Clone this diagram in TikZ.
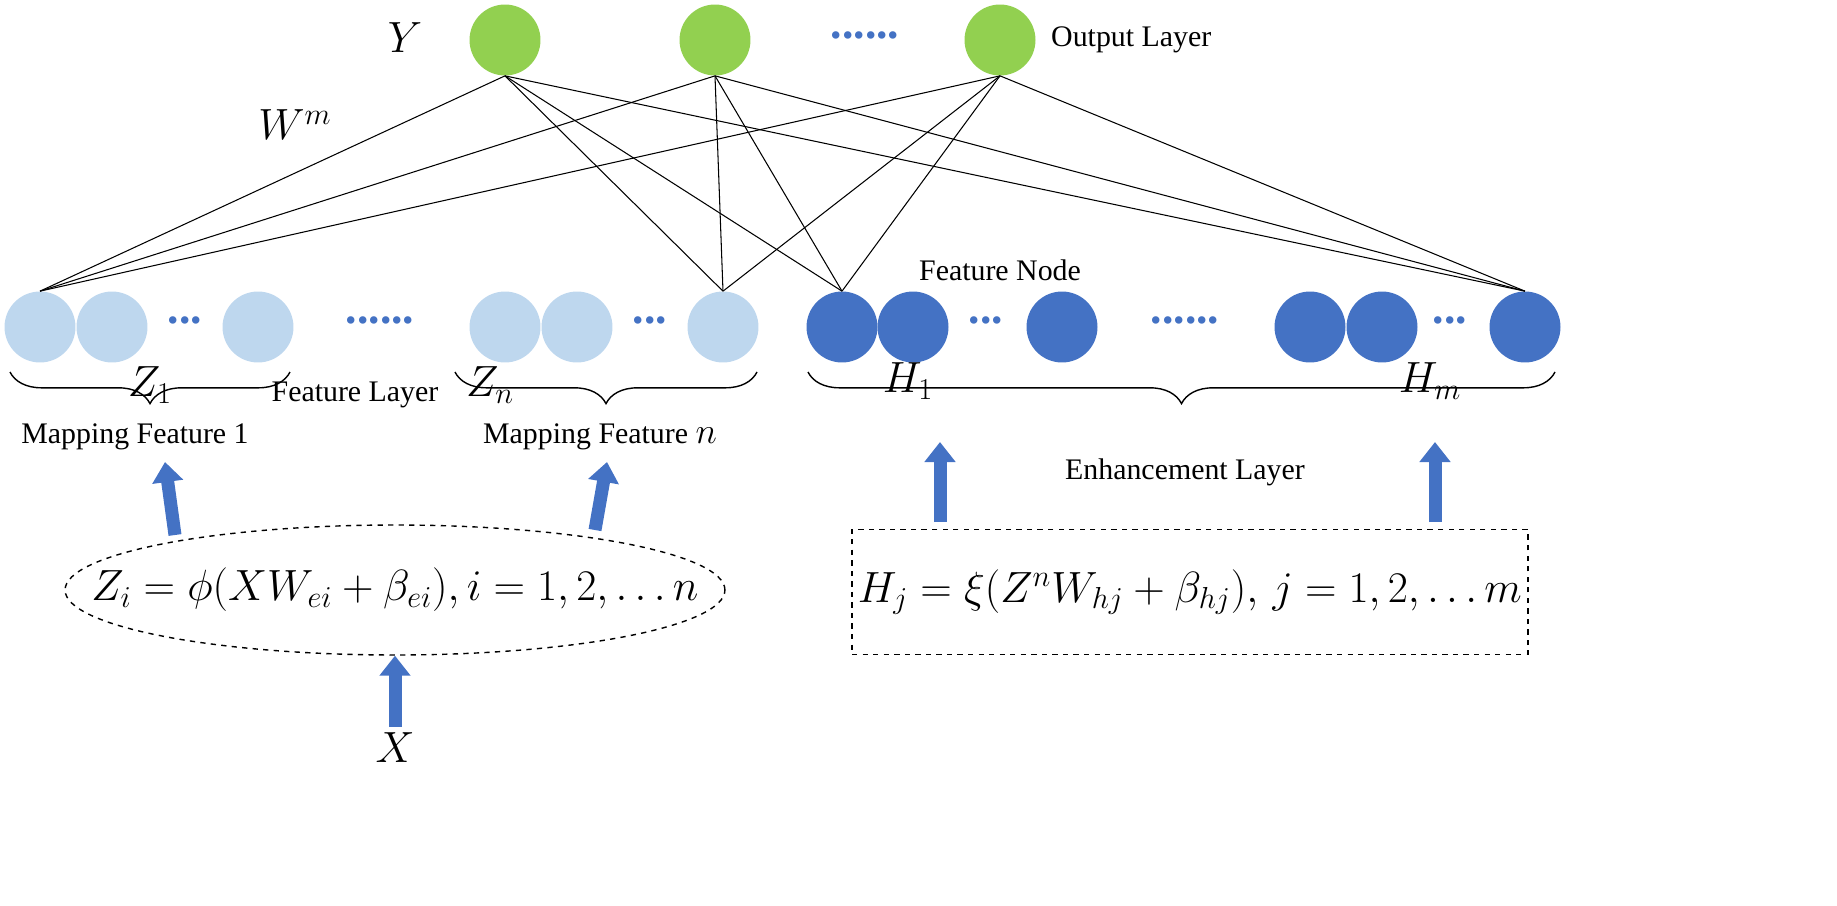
\documentclass[tikz,border=0pt]{standalone}
\usepackage{fontspec}
\setmainfont{Liberation Serif}
\usetikzlibrary{decorations.pathreplacing,arrows.meta,shapes.geometric}
\begin{document}
\begin{tikzpicture}[x=0.02cm,y=-0.02cm,
  outn/.style={circle,minimum size=1.42cm,inner sep=0},
  lbn/.style={circle,fill={rgb,255:red,190;green,215;blue,238},minimum size=1.42cm,inner sep=0},
  dbn/.style={circle,fill={rgb,255:red,68;green,114;blue,196},minimum size=1.42cm,inner sep=0},
  txt/.style={font=\fontsize{17}{20}\selectfont},
  dots/.style={text={rgb,255:red,68;green,114;blue,196},font=\fontsize{26}{26}\selectfont\bfseries},
  barrow/.style={draw={rgb,255:red,68;green,114;blue,196},line width=2.6mm,-{Triangle[length=4mm,width=6mm]}},
  brace/.style={decorate,decoration={brace,amplitude=18pt},thick},
  wire/.style={line width=0.6pt}]
\definecolor{og}{RGB}{146,208,80}
\node[outn,fill=og] (o1) at (505,40) {};
\node[outn,fill=og] (o2) at (715,40) {};
\node[outn,fill=og] (o3) at (1000,40) {};
\node[dots] (od) at (865,35) {......};
\node[font=\fontsize{28}{30}\selectfont\itshape] (y) at (405,38) {$Y$};
\node[txt,anchor=west] (ol) at (1045,40) {Output Layer};
\node[font=\fontsize{26}{28}\selectfont] (w) at (295,125) {$W^{m}$};
% feature nodes
\foreach \n/\x in {a1/40,a2/112,a3/258,b1/505,b2/577,b3/723}{\node[lbn] (\n) at (\x,327) {};}
\foreach \n/\x in {c1/842,c2/913,c3/1062,d1/1310,d2/1382,d3/1525}{\node[dbn] (\n) at (\x,327) {};}
\node[dots] (dd1) at (185,320) {...};
\node[dots] (dd2) at (650,320) {...};
\node[dots] (dd3) at (380,320) {......};
\node[dots] (dd4) at (986,320) {...};
\node[dots] (dd5) at (1450,320) {...};
\node[dots] (dd6) at (1185,320) {......};
\node[txt] (fn) at (1000,270) {Feature Node};
% wires
\foreach \o in {o1,o2,o3}{\foreach \t in {a1,b3,c1,d3}{\draw[wire] (\o.south) -- (\t.north);}}
% braces
\draw[brace] (290,372) -- (10,372);
\draw[brace] (757,372) -- (455,372);
\draw[brace] (1555,372) -- (808,372);
\node[font=\fontsize{26}{28}\selectfont] (z1) at (150,385) {$Z_1$};
\node[font=\fontsize{26}{28}\selectfont] (zn) at (490,385) {$Z_n$};
\node[font=\fontsize{26}{28}\selectfont] (h1) at (908,381) {$H_1$};
\node[font=\fontsize{26}{28}\selectfont] (hm) at (1430,381) {$H_m$};
\node[txt] (fl) at (355,395) {Feature Layer};
\node[txt] (mf1) at (135,437) {Mapping Feature 1};
\node[txt] (mfn) at (600,437) {Mapping Feature \fontsize{22}{22}\selectfont$n$};
\node[txt] (el) at (1185,472) {Enhancement Layer};
% formulas
\node[draw,dashed,thick,ellipse,minimum width=13.2cm,minimum height=2.6cm,inner sep=0] (ef) at (395,590) {};
\node[font=\fontsize{26}{30}\selectfont] (eft) at (ef.center) {$Z_i=\phi(XW_{ei}+\beta_{ei}),i=1,2,\ldots n$};
\node[draw,dashed,thick,minimum width=13.28cm,minimum height=2.5cm,font=\fontsize{26}{30}\selectfont] (hf) at (1190,592)
  {$H_j=\xi(Z^{n}W_{hj}+\beta_{hj}),\,j=1,2,\ldots m$};
\node[font=\fontsize{26}{28}\selectfont] (x) at (395,748) {$X$};
% arrows
\coordinate (a1s) at (175,535); \coordinate (a1e) at (165,462);
\coordinate (a2s) at (595,530); \coordinate (a2e) at (607,462);
\coordinate (a3s) at (940,522); \coordinate (a3e) at (940,442);
\coordinate (a4s) at (1435,522); \coordinate (a4e) at (1435,442);
\draw[barrow] (a1s) -- (a1e);
\draw[barrow] (a2s) -- (a2e);
\draw[barrow] (a3s) -- (a3e);
\draw[barrow] (a4s) -- (a4e);
\draw[barrow] (x.north) -- (ef.south);
\pgfresetboundingbox
\useasboundingbox (0,0) rectangle (1837,906);
\end{tikzpicture}
\end{document}
